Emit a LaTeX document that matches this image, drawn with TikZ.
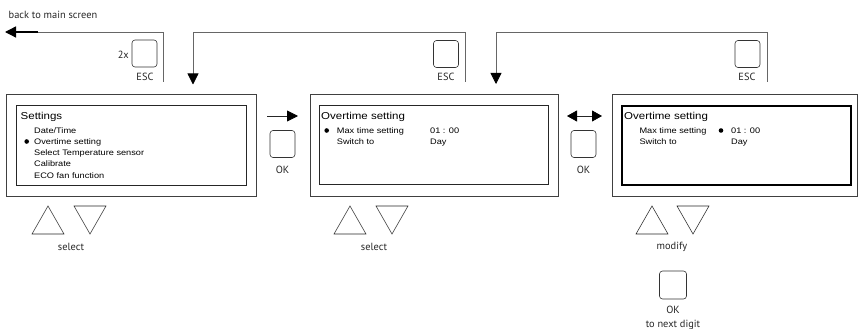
\documentclass[tikz,border=0pt]{standalone}
\usepackage{fontspec}
\setmainfont{Liberation Sans}
\newfontfamily\scrfont[FakeStretch=1.15]{Liberation Sans}
\newfontfamily\labfont{PT Sans}
\usetikzlibrary{arrows.meta}
\begin{document}
\begin{tikzpicture}[x=1pt,y=-1pt,
  outerbox/.style={draw=black!75, line width=0.7pt, inner sep=0, anchor=north west},
  innerbox/.style={draw=black!85, line width=0.8pt, inner sep=0, anchor=north west},
  keybox/.style={draw=black!80, rounded corners=3pt, line width=0.6pt, minimum width=25pt, minimum height=27pt, inner sep=0},
  conn/.style={draw=black!60, line width=0.8pt},
  tipped/.style={-{Triangle[length=11pt,width=11pt,color=black]}},
  bothtip/.style={{Triangle[length=10pt,width=11pt,color=black]}-{Triangle[length=10pt,width=11pt,color=black]}},
  stxt/.style={font=\scrfont\fontsize{8}{9}\selectfont, anchor=base west, inner sep=0},
  htxt/.style={font=\scrfont\fontsize{10}{12}\selectfont, anchor=base west, inner sep=0},
  ltxt/.style={font=\labfont\fontsize{10.4}{12}\selectfont, inner sep=0, text=black!85},
  dot/.style={circle, fill=black, inner sep=0, minimum size=4.6pt},
  tri/.style={draw=black!85, line width=0.55pt, line join=miter}
]
\useasboundingbox (0,0) rectangle (860,329);

% ---------- screens ----------
\node[outerbox, minimum width=250pt, minimum height=102pt] (s1o) at (6,94) {};
\node[innerbox, minimum width=230pt, minimum height=80pt] (s1i) at (16,105) {};
\node[outerbox, minimum width=248pt, minimum height=102pt] (s2o) at (310,94) {};
\node[innerbox, minimum width=229pt, minimum height=79pt] (s2i) at (319,105) {};
\node[outerbox, minimum width=245pt, minimum height=102pt] (s3o) at (612,94) {};
\node[innerbox, line width=1.7pt, draw=black, minimum width=229pt, minimum height=79pt] (s3i) at (621,105) {};

% screen 1 texts
\node[htxt] (t1h) at (20.5,119) {Settings};
\node[stxt] (t1a) at (34,133) {Date/Time};
\node[dot] (d1) at (26.7,141.5) {};
\node[stxt] (t1b) at (34,144.3) {Overtime setting};
\node[stxt] (t1c) at (34,155.6) {Select Temperature sensor};
\node[stxt] (t1d) at (34,166.9) {Calibrate};
\node[stxt] (t1e) at (34,178.2) {ECO fan function};

% screen 2 texts
\node[htxt] (t2h) at (321,119.3) {Overtime setting};
\node[dot] (d2) at (326.7,130.5) {};
\node[stxt] (t2a) at (336.7,133.3) {Max time setting};
\node[stxt] (t2b) at (430,133.3) {01 : 00};
\node[stxt] (t2c) at (336.7,144) {Switch to};
\node[stxt] (t2d) at (430,144) {Day};

% screen 3 texts
\node[htxt] (t3h) at (624,119.3) {Overtime setting};
\node[stxt] (t3a) at (639.3,133.3) {Max time setting};
\node[dot] (d3) at (721,130.5) {};
\node[stxt] (t3b) at (731,133.3) {01 : 00};
\node[stxt] (t3c) at (639.3,144) {Switch to};
\node[stxt] (t3d) at (731,144) {Day};

% ---------- ESC keys and loops ----------
\node[ltxt, anchor=base west] (lab) at (8.5,18.5) {back to main screen};
\node[keybox] (esc1) at (144.5,53.5) {};
\node[ltxt, anchor=east] (twox) at (129,55) {2x};
\node[ltxt] (esc1l) at (145,77) {ESC};
\coordinate (b1) at (163,82);
\coordinate (b1t) at (163,32);
\coordinate (b1e) at (5,32);
\draw[conn] (b1) -- (b1t) -- (38,32);
\draw[draw=black, line width=1.3pt, tipped] (38,32) -- (b1e);

\node[keybox] (esc2) at (446,54) {};
\node[ltxt] (esc2l) at (446,77) {ESC};
\coordinate (b2) at (465,82);
\coordinate (a2) at (193,84.5);
\draw[conn, tipped] (b2) |- (193,32) -- (a2);

\node[keybox] (esc3) at (747.5,54) {};
\node[ltxt] (esc3l) at (747,77) {ESC};
\coordinate (b3) at (767,82);
\coordinate (a3) at (496,84);
\draw[conn, tipped] (b3) |- (496,32) -- (a3);

% ---------- OK keys and forward arrows ----------
\node[keybox] (ok1) at (282.5,144) {};
\node[ltxt] (ok1l) at (282.5,170) {OK};
\coordinate (f1s) at (267,116);
\coordinate (f1e) at (298,116);
\draw[draw=black!85, line width=0.8pt, tipped] (f1s) -- (f1e);

\node[keybox] (ok2) at (583.5,144) {};
\node[ltxt] (ok2l) at (583.5,169.5) {OK};
\coordinate (f2s) at (567,116);
\coordinate (f2e) at (602,116);
\draw[draw=black!85, line width=0.8pt, bothtip] (f2s) -- (f2e);

% ---------- select / modify triangles ----------
\draw[tri] (32,234) -- (64,234) -- (48,206) -- cycle;
\draw[tri] (74,206) -- (106,206) -- (90,234) -- cycle;
\node[ltxt] (sel1) at (71,247) {select};

\draw[tri] (334,234) -- (366,234) -- (350,206) -- cycle;
\draw[tri] (376,206) -- (408,206) -- (392,234) -- cycle;
\node[ltxt] (sel2) at (374,247) {select};

\draw[tri] (636,234) -- (668,234) -- (652,206) -- cycle;
\draw[tri] (677,206) -- (709,206) -- (693,234) -- cycle;
\node[ltxt] (mod3) at (672,247) {modify};

\node[keybox, minimum width=27pt, minimum height=28pt] (ok3) at (673,285) {};
\node[ltxt] (ok3l) at (673,309.5) {OK};
\node[ltxt] (nxt) at (673,325) {to next digit};
\end{tikzpicture}
\end{document}
